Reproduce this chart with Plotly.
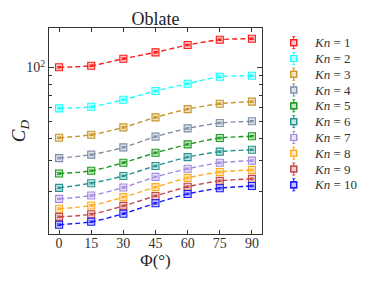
import plotly.graph_objects as go

phi = [0, 15, 30, 45, 60, 75, 90]
kn_labels = ["1", "2", "3", "4", "5", "6", "7", "8", "9", "10"]
cd_kn1 = [100.3, 102.4, 112.1, 121.7, 133.8, 143.3, 145.1]
cd_kn2 = [59.0, 60.2, 65.9, 73.8, 81.1, 88.8, 89.9]
cd_kn3 = [40.3, 41.9, 46.1, 52.5, 58.4, 62.6, 64.3]
cd_kn4 = [31.0, 32.4, 35.6, 40.9, 45.5, 48.8, 49.9]
cd_kn5 = [25.4, 26.3, 29.2, 33.2, 37.0, 40.2, 41.1]
cd_kn6 = [21.1, 22.4, 24.6, 28.0, 31.4, 33.7, 34.5]
cd_kn7 = [18.3, 19.1, 21.2, 24.3, 27.0, 29.2, 30.0]
cd_kn8 = [16.1, 16.8, 18.7, 21.3, 24.0, 25.9, 26.6]
cd_kn9 = [14.5, 15.0, 16.7, 19.0, 21.4, 23.1, 23.7]
cd_kn10 = [13.1, 13.6, 15.1, 17.3, 19.5, 21.0, 21.6]
err_frac = 0.01
series = [cd_kn1, cd_kn2, cd_kn3, cd_kn4, cd_kn5, cd_kn6, cd_kn7, cd_kn8, cd_kn9, cd_kn10]
colors = ["#ff1a1a", "#1affff", "#c8962a", "#7f8fa6", "#1f9a1f",
          "#23948f", "#a58be0", "#ffad1f", "#c04545", "#1a1aff"]

def rgba(hexc, a):
    h = hexc.lstrip("#")
    r, g, b = int(h[0:2], 16), int(h[2:4], 16), int(h[4:6], 16)
    return f"rgba({r},{g},{b},{a})"

serif = "Liberation Serif, DejaVu Serif, serif"
axis_col = "#333333"

fig = go.Figure()
for lab, ys, c in zip(kn_labels, series, colors):
    fig.add_trace(go.Scatter(
        x=phi, y=ys, mode="lines+markers", name=f"Kn = {lab}", showlegend=False,
        line=dict(color=c, width=1.4, dash="5px,3px", shape="spline", smoothing=0.8),
        marker=dict(symbol="square", size=7, color=rgba(c, 0.25),
                    line=dict(color=c, width=1.1)),
        error_y=dict(type="data", array=[v * err_frac for v in ys],
                     color=c, thickness=1, width=2),
    ))

# hand-made legend (layout decoration in paper coordinates)
leg_x_sym = 1.149
leg_x_txt = 1.234
leg_top = 0.929
leg_step = 0.0767
shapes = []
annotations = []
for i, (lab, c) in enumerate(zip(kn_labels, colors)):
    yp = leg_top - i * leg_step
    common = dict(xref="paper", yref="paper", xsizemode="pixel", ysizemode="pixel",
                  xanchor=leg_x_sym, yanchor=yp)
    shapes.append(dict(type="line", x0=0, x1=0, y0=-6, y1=6,
                       line=dict(color=c, width=1), **common))
    shapes.append(dict(type="line", x0=-1.5, x1=1.5, y0=6, y1=6,
                       line=dict(color=c, width=1), **common))
    shapes.append(dict(type="line", x0=-1.5, x1=1.5, y0=-6, y1=-6,
                       line=dict(color=c, width=1), **common))
    shapes.append(dict(type="rect", x0=-3, x1=3, y0=-3, y1=3,
                       line=dict(color=c, width=1.1), fillcolor="white", **common))
    shapes.append(dict(type="rect", x0=-3, x1=3, y0=-3, y1=3,
                       line=dict(color=c, width=1.1), fillcolor=rgba(c, 0.25), **common))
    annotations.append(dict(xref="paper", yref="paper", x=leg_x_txt, y=yp,
                            xanchor="left", yanchor="middle", showarrow=False,
                            text=f"<i>Kn</i> = {lab}",
                            font=dict(size=13, family=serif, color="#333333")))

fig.update_layout(
    width=374, height=281,
    margin=dict(l=41, r=120, t=20, b=55),
    plot_bgcolor="white", paper_bgcolor="white",
    font=dict(family=serif, color="#222222", size=14),
    showlegend=False,
    shapes=shapes, annotations=annotations,
    title=dict(text="Oblate", x=0.5, xref="paper", xanchor="center",
               y=0.962, yref="container", yanchor="middle",
               font=dict(size=18, family=serif, color="#222222")),
    xaxis=dict(range=[-4.7, 94.7], tickvals=phi, ticktext=[str(p) for p in phi],
               ticks="inside", ticklen=4, tickcolor=axis_col, showline=True,
               linecolor=axis_col, linewidth=1.2, mirror="ticks", showgrid=False,
               zeroline=False, automargin=False, ticklabelstandoff=-4,
               tickfont=dict(size=14, family=serif, color="#333333"),
               title=dict(text="Φ(°)", font=dict(size=17, family=serif, color="#222222"),
                          standoff=4)),
    yaxis=dict(type="log", range=[1.065, 2.222], tickvals=[100],
               ticktext=["10<sup>2</sup>"], ticks="inside", ticklen=5,
               tickcolor=axis_col, showline=True, linecolor=axis_col, linewidth=1.2,
               mirror="ticks", showgrid=False, zeroline=False, automargin=False,
               tickfont=dict(size=14, family=serif, color="#333333"),
               minor=dict(tickvals=[20, 30, 40, 50, 60, 70, 80, 90], ticks="inside",
                          ticklen=3, tickcolor=axis_col, showgrid=False),
               title=dict(text="<i>C</i><sub><i>D</i></sub>",
                          font=dict(size=19, family=serif, color="#222222"), standoff=12)),
)
fig.write_html("out.html")
